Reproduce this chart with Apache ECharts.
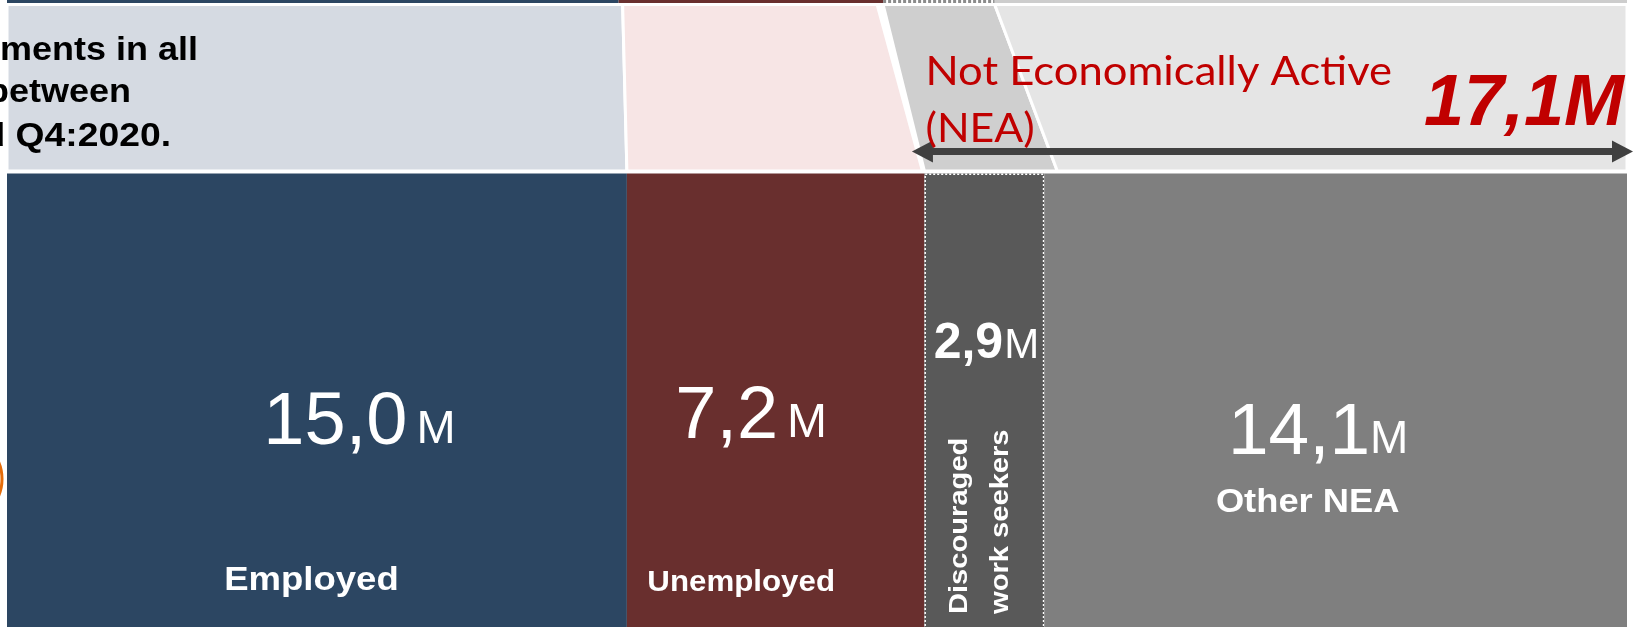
<!DOCTYPE html>
<html>
<head>
<meta charset="utf-8">
<script src="https://cdn.jsdelivr.net/npm/echarts@6/dist/echarts.min.js"></script>
<style>
html,body{margin:0;padding:0;background:#ffffff;overflow:hidden}
#chart{width:1633px;height:627px}
</style>
</head>
<body>
<div id="chart"></div>
<script>
// ---------------- DATA ----------------
const categories = ['Employed', 'Unemployed', 'Discouraged work seekers', 'Other NEA'];
const currentValues = [15.0, 7.2, 2.9, 14.1];      // millions, Q4:2020 (bottom band)
const previousValues = [14.8, 6.4, 2.7, 15.3];     // millions, earlier quarter (top edge of flows)
const valueLabels = ['15,0', '7,2', '2,9', '14,1'];
const unitLabel = 'M';
const categoryLabels = ['Employed', 'Unemployed', 'Discouraged\nwork seekers', 'Other NEA'];
const neaTitleLines = ['Not Economically Active', '(NEA)'];
const neaTotalLabel = '17,1M';
const noteLines = ['movements in all', 'between', 'and Q4:2020.'];

// ---------------- STYLE / LAYOUT ----------------
const barColors = ['#2C4662', '#692F2E', '#595959', '#7F7F7F'];
const flowColors = ['#D5DAE2', '#F7E5E5', '#CFCFCF', '#E5E5E5'];
const topLineColors = ['#2C4662', '#692F2E', '#8A8A8A', '#CDCDCD'];
const RED = '#C00000';
const FONT = '"Liberation Sans", Arial, sans-serif';
const MID = 0.25;   // rendered 'middle' offset above baseline (em), Liberation Sans
const LMID = 0.24;  // same for Lato

const TOP_LINE = [0, 3];
const FLOW = [4.5, 171];
const BAR = [173.5, 627];
// pixel nudges of flow corners: [topLeft, topRight, bottomRight, bottomLeft]
const flowNudge = [[0, 4, 0, 0], [4, -6, -2, 0], [0, 0, 13, 0], [0, 0, 0, 13]];

const valueLayout = [
  {cx: 42.5, base: 442, numSize: 74, numWeight: 'normal', unitSize: 47, gap: 9},
  {cx: -24.5, base: 436, numSize: 74, numWeight: 'normal', unitSize: 48, gap: 9},
  {cx: 2, base: 357, numSize: 50, numWeight: 'bold', unitSize: 42, gap: 1},
  {cx: -17.5, base: 452, numSize: 73, numWeight: 'normal', unitSize: 46, gap: 0}
];
const catLayout = [
  {cx: -5.5, base: 589, size: 33.5, sx: 1.09},
  {cx: -34.5, base: 590, size: 29.5, sx: 1.06},
  {rotated: true, lineX: [42, 83], startY: 614, size: 26, sx: 1.12},
  {cx: -28, base: 511, size: 33, sx: 1.1}
];

// ---------------- HELPERS ----------------
function spans(arr) { let s = 0; return arr.map(v => { const a = s; s += v; return [a, s]; }); }
const curSpan = spans(currentValues);
const prevSpan = spans(previousValues);
const total = curSpan[curSpan.length - 1][1];

const mctx = document.createElement('canvas').getContext('2d');
function tw(text, font) { mctx.font = font; return mctx.measureText(text).width; }
function txt(text, x, y, font, fill, align, extra) {
  return Object.assign({
    type: 'text', x: x, y: y,
    style: {text: text, font: font, fill: fill, align: align, textAlign: align,
            verticalAlign: 'middle', textVerticalAlign: 'middle'}
  }, extra || {});
}

const chart = echarts.init(document.getElementById('chart'), null, {renderer: 'canvas'});

// flows between top edge and bars
const flowSeries = {
  type: 'custom', z: 1,
  data: currentValues.map((v, i) => [prevSpan[i][0], prevSpan[i][1], curSpan[i][0], curSpan[i][1], i]),
  renderItem: function (params, api) {
    const i = api.value(4);
    const n = flowNudge[i];
    const y0 = api.coord([0, FLOW[0]])[1], y1 = api.coord([0, FLOW[1]])[1];
    const pts = [
      [api.coord([api.value(0), 0])[0] + n[0], y0],
      [api.coord([api.value(1), 0])[0] + n[1], y0],
      [api.coord([api.value(3), 0])[0] + n[2], y1],
      [api.coord([api.value(2), 0])[0] + n[3], y1]
    ];
    return {type: 'polygon', shape: {points: pts},
      style: {fill: flowColors[i], stroke: '#ffffff', lineWidth: 3}};
  }
};

// top edge line (earlier quarter)
const topSeries = {
  type: 'custom', z: 2,
  data: previousValues.map((v, i) => [prevSpan[i][0], prevSpan[i][1], i]),
  renderItem: function (params, api) {
    const i = api.value(2);
    const x0 = api.coord([api.value(0), 0])[0], x1 = api.coord([api.value(1), 0])[0];
    const y0 = api.coord([0, TOP_LINE[0]])[1], y1 = api.coord([0, TOP_LINE[1]])[1];
    if (i === 2) {
      return {type: 'line', shape: {x1: x0, y1: (y0 + y1) / 2, x2: x1, y2: (y0 + y1) / 2},
        style: {stroke: topLineColors[i], lineWidth: y1 - y0, lineDash: [3, 2]}};
    }
    return {type: 'rect', shape: {x: x0, y: y0, width: x1 - x0, height: y1 - y0},
      style: {fill: topLineColors[i]}};
  }
};

// main bars with labels
const barSeries = {
  type: 'custom', z: 3,
  data: currentValues.map((v, i) => [curSpan[i][0], curSpan[i][1], i]),
  renderItem: function (params, api) {
    const i = api.value(2);
    const x0 = api.coord([api.value(0), 0])[0], x1 = api.coord([api.value(1), 0])[0];
    const yT = api.coord([0, BAR[0]])[1], yB = api.coord([0, BAR[1]])[1];
    const cx = (x0 + x1) / 2;
    const children = [{type: 'rect', shape: {x: x0, y: yT, width: x1 - x0, height: yB - yT},
      style: {fill: barColors[i]}}];
    if (i === 2) {
      children.push({type: 'rect', shape: {x: x0 + 0.75, y: yT + 0.75, width: x1 - x0 - 1.5, height: yB - yT + 2},
        style: {fill: 'none', stroke: '#ffffff', lineWidth: 1.5, lineDash: [2, 2]}});
    }
    // value label
    const L = valueLayout[i];
    const numFont = L.numWeight + ' ' + L.numSize + 'px ' + FONT;
    const unitFont = 'normal ' + L.unitSize + 'px ' + FONT;
    const wn = tw(valueLabels[i], numFont), wu = tw(unitLabel, unitFont);
    const left = cx + L.cx - (wn + L.gap + wu) / 2;
    children.push(txt(valueLabels[i], left, L.base - MID * L.numSize, numFont, '#ffffff', 'left'));
    children.push(txt(unitLabel, left + wn + L.gap, L.base - MID * L.unitSize, unitFont, '#ffffff', 'left'));
    // category label
    const C = catLayout[i];
    const catFont = 'bold ' + C.size + 'px ' + FONT;
    if (C.rotated) {
      categoryLabels[i].split('\n').forEach((line, k) => {
        children.push(txt(line, x0 + C.lineX[k] - MID * C.size, C.startY, catFont, '#ffffff', 'left',
          {rotation: Math.PI / 2, scaleX: C.sx}));
      });
    } else {
      children.push(txt(categoryLabels[i], cx + C.cx, C.base - MID * C.size, catFont, '#ffffff', 'center',
        {scaleX: C.sx}));
    }
    return {type: 'group', children: children};
  }
};

// NEA annotation: title, double arrow spanning NEA categories, total
const neaStartValue = curSpan[2][0];
const annotationSeries = {
  type: 'custom', z: 4,
  data: [[neaStartValue, total]],
  renderItem: function (params, api) {
    const xs = api.coord([api.value(0), 0])[0];
    const xe = api.coord([api.value(1), 0])[0];
    const ay = api.coord([0, 151.5])[1];
    const aL = xs - 12.5, aR = xe + 6;
    const head = 21, hh = 11, sh = 3.5;
    const arrowColor = '#404040';
    const titleFont = 'normal 40px Lato, "Noto Sans", sans-serif';
    return {type: 'group', children: [
      {type: 'rect', shape: {x: aL + head - 2, y: ay - sh, width: aR - aL - 2 * head + 4, height: 2 * sh},
        style: {fill: arrowColor}},
      {type: 'polygon', shape: {points: [[aL, ay], [aL + head, ay - hh], [aL + head, ay + hh]]}, style: {fill: arrowColor}},
      {type: 'polygon', shape: {points: [[aR, ay], [aR - head, ay - hh], [aR - head, ay + hh]]}, style: {fill: arrowColor}},
      txt(neaTitleLines[0], xs + 1, 82 - LMID * 40, titleFont, RED, 'left', {scaleX: 1.09}),
      txt(neaTitleLines[1], xs + 1, 139 - LMID * 40, titleFont, RED, 'left', {scaleX: 1.07}),
      txt(neaTotalLabel, xe - 3, 123.5 - MID * 72, 'italic bold 72px ' + FONT, RED, 'right')
    ]};
  }
};

const noteFont = 'bold 33px ' + FONT;
const noteRight = [198, 131, 171];
const noteBase = [59.5, 101, 145];
const noteScale = [1.09, 1.09, 1.13];

const option = {
  animation: false,
  backgroundColor: '#ffffff',
  grid: {left: 7, right: 6, top: 0, bottom: 0},
  xAxis: {type: 'value', min: 0, max: total, show: false},
  yAxis: {type: 'value', min: 0, max: 627, inverse: true, show: false},
  series: [flowSeries, topSeries, barSeries, annotationSeries],
  graphic: {elements: [
    {type: 'circle', z: 100, shape: {cx: -40, cy: 479, r: 42}, style: {fill: 'none', stroke: '#E46C0A', lineWidth: 3}}
  ].concat(noteLines.map((t, k) => ({
    type: 'text', z: 100, x: noteRight[k], y: noteBase[k] - MID * 33, scaleX: noteScale[k],
    style: {text: t, font: noteFont, fill: '#000000', align: 'right', textAlign: 'right',
            verticalAlign: 'middle', textVerticalAlign: 'middle'}
  })))}
};
chart.setOption(option);
</script>
</body>
</html>
